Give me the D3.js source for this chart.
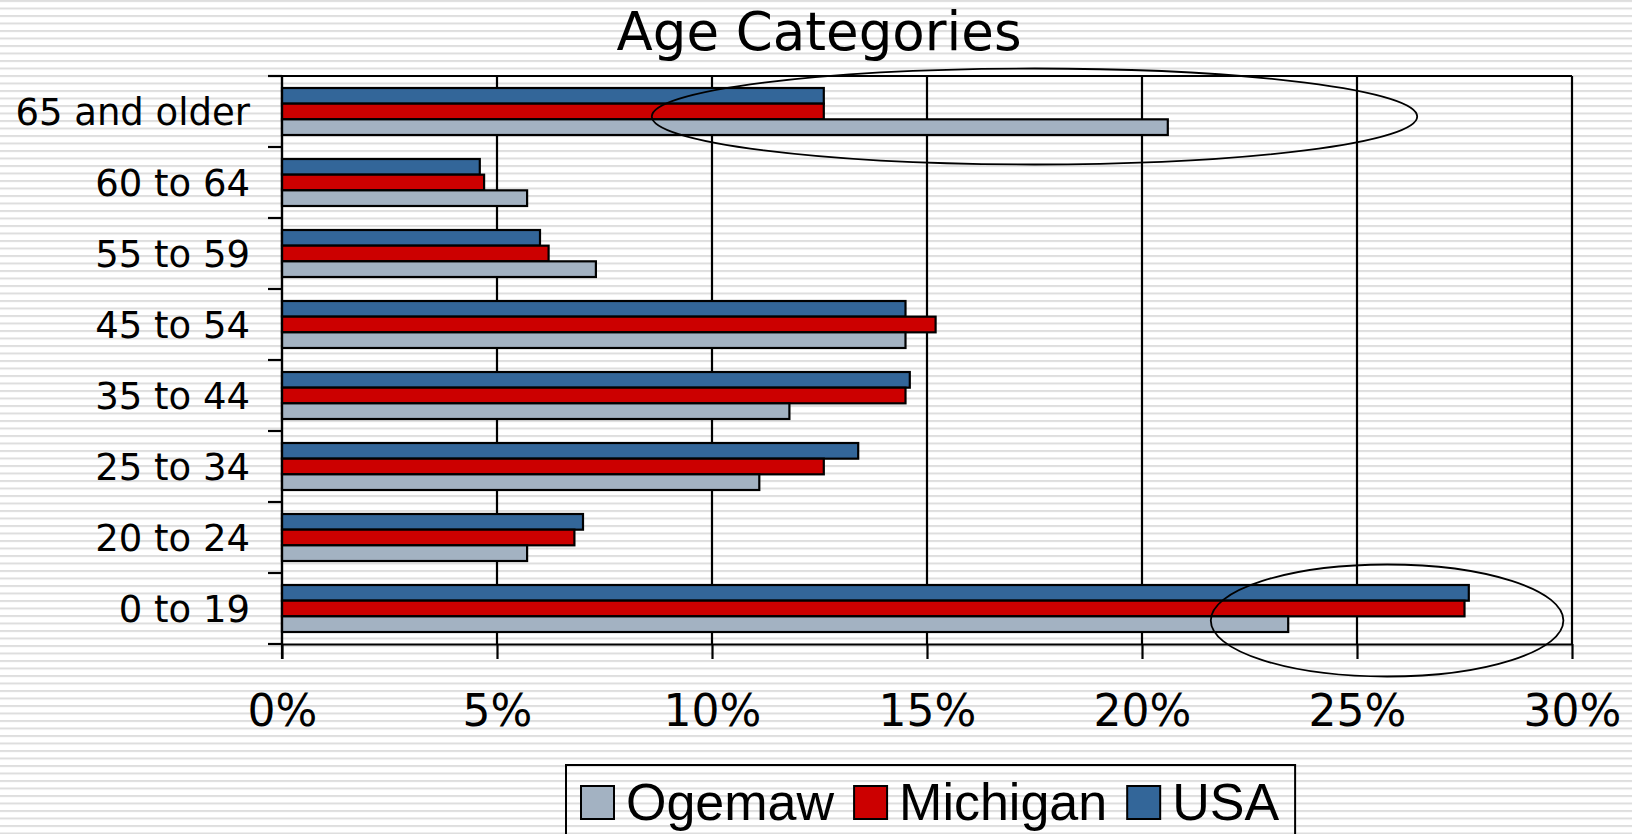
<!DOCTYPE html>
<html>
<head>
<meta charset="utf-8">
<script src="https://cdn.jsdelivr.net/npm/d3@7"></script>
<style>
  body { margin: 0; background: #fff; }
  svg { display: block; }
</style>
</head>
<body>
<div id="chart"></div>
<script>
// chart data (percent of population)
const categories = ['65 and older', '60 to 64', '55 to 59', '45 to 54', '35 to 44', '25 to 34', '20 to 24', '0 to 19'];
const seriesNames = ['USA', 'Michigan', 'Ogemaw'];   // top to bottom inside each group
const usaValues = [12.6, 4.6, 6.0, 14.5, 14.6, 13.4, 7.0, 27.6];
const michiganValues = [12.6, 4.7, 6.2, 15.2, 14.5, 12.6, 6.8, 27.5];
const ogemawValues = [20.6, 5.7, 7.3, 14.5, 11.8, 11.1, 5.7, 23.4];
const xTicks = [0, 5, 10, 15, 20, 25, 30];
const legendOrder = ['Ogemaw', 'Michigan', 'USA'];

const seriesValues = { USA: usaValues, Michigan: michiganValues, Ogemaw: ogemawValues };
const colors = { USA: '#336699', Michigan: '#cc0000', Ogemaw: '#a3b2c2' };

const width = 1632, height = 834;
const plot = { left: 282, right: 1572, top: 76, bottom: 644 };

const svg = d3.select('#chart').append('svg')
    .attr('width', width)
    .attr('height', height);

// striped slide background
const defs = svg.append('defs');
const pat = defs.append('pattern')
    .attr('id', 'stripes')
    .attr('patternUnits', 'userSpaceOnUse')
    .attr('width', 10)
    .attr('height', 7.5);
pat.append('rect').attr('width', 10).attr('height', 7.5).attr('fill', '#ffffff');
pat.append('rect').attr('y', 0).attr('width', 10).attr('height', 2).attr('fill', '#dedede');

svg.append('rect')
    .attr('width', width)
    .attr('height', height)
    .attr('fill', 'url(#stripes)');

// scales
const x = d3.scaleLinear().domain([0, 30]).range([plot.left, plot.right]);
const y0 = d3.scaleBand()
    .domain(categories)
    .range([plot.top, plot.bottom])
    .paddingInner(0.338)
    .paddingOuter(0.169);
const y1 = d3.scaleBand().domain(seriesNames).range([0, y0.bandwidth()]);
const step = y0.step();

// title
svg.append('text')
    .attr('x', 819)
    .attr('y', 50)
    .attr('text-anchor', 'middle')
    .style('font-family', '"DejaVu Sans", Verdana, sans-serif')
    .style('font-size', '53px')
    .attr('fill', '#000')
    .text('Age Categories');

// vertical gridlines
svg.append('g').selectAll('line')
    .data(xTicks)
    .enter().append('line')
    .attr('x1', d => x(d)).attr('x2', d => x(d))
    .attr('y1', plot.top).attr('y2', plot.bottom)
    .attr('stroke', '#000').attr('stroke-width', 2.2);

// top border of plot area
svg.append('line')
    .attr('x1', plot.left).attr('x2', plot.right)
    .attr('y1', plot.top).attr('y2', plot.top)
    .attr('stroke', '#000').attr('stroke-width', 2.2);

// bars
const groups = svg.append('g').selectAll('g')
    .data(categories)
    .enter().append('g')
    .attr('transform', d => 'translate(0,' + y0(d) + ')');

groups.selectAll('rect')
    .data((c, i) => seriesNames.map(s => ({ series: s, value: seriesValues[s][i] })))
    .enter().append('rect')
    .attr('x', x(0))
    .attr('y', d => y1(d.series))
    .attr('width', d => x(d.value) - x(0))
    .attr('height', y1.bandwidth())
    .attr('fill', d => colors[d.series])
    .attr('stroke', '#000')
    .attr('stroke-width', 2.2);

// x axis
const xAxis = svg.append('g')
    .attr('transform', 'translate(0,' + plot.bottom + ')')
    .call(d3.axisBottom(x)
        .tickValues(xTicks)
        .tickSize(15)
        .tickSizeOuter(0)
        .tickPadding(36)
        .tickFormat(d => d + '%'));
xAxis.select('.domain').attr('stroke', '#000').attr('stroke-width', 2.2);
xAxis.selectAll('.tick line').attr('stroke', '#000').attr('stroke-width', 2.2);
xAxis.selectAll('.tick text')
    .attr('fill', '#000')
    .style('font-family', '"DejaVu Sans", Verdana, sans-serif')
    .style('font-size', '44px');

// y axis: labels at band centers, ticks at band boundaries
const yAxis = svg.append('g')
    .attr('transform', 'translate(' + plot.left + ',0)')
    .call(d3.axisLeft(y0).tickSize(0).tickPadding(32));
yAxis.select('.domain').remove();
yAxis.selectAll('.tick text')
    .attr('fill', '#000')
    .attr('dy', '0.37em')
    .style('font-family', '"DejaVu Sans", Verdana, sans-serif')
    .style('font-size', '37px');

const bounds = d3.range(categories.length + 1).map(i => plot.top + i * step);
svg.append('g').selectAll('line')
    .data(bounds)
    .enter().append('line')
    .attr('x1', plot.left - 14).attr('x2', plot.left)
    .attr('y1', d => d).attr('y2', d => d)
    .attr('stroke', '#000').attr('stroke-width', 2.2);
svg.append('line')
    .attr('x1', plot.left).attr('x2', plot.left)
    .attr('y1', plot.top).attr('y2', plot.bottom + 15)
    .attr('stroke', '#000').attr('stroke-width', 2.2);

// hand-drawn ellipses highlighting the comparison
const notes = [
    { cat: '65 and older', cx: 17.5, rx: 8.9, dy: 5, ry: 48 },
    { cat: '0 to 19', cx: 25.7, rx: 4.1, dy: 12, ry: 56 }
];
svg.append('g').selectAll('ellipse')
    .data(notes)
    .enter().append('ellipse')
    .attr('cx', d => x(d.cx))
    .attr('cy', d => y0(d.cat) + y0.bandwidth() / 2 + d.dy)
    .attr('rx', d => x(d.rx) - x(0))
    .attr('ry', d => d.ry)
    .attr('fill', 'none')
    .attr('stroke', '#000')
    .attr('stroke-width', 1.8);

// legend
const legend = svg.append('g').attr('transform', 'translate(566,765)');
const legendBox = legend.append('rect')
    .attr('x', 0).attr('y', 0)
    .attr('height', 120)
    .attr('fill', 'none')
    .attr('stroke', '#000')
    .attr('stroke-width', 2);

let lx = 15, textEnd = 0;
legendOrder.forEach(function(s) {
    legend.append('rect')
        .attr('x', lx).attr('y', 21)
        .attr('width', 33).attr('height', 33)
        .attr('fill', colors[s])
        .attr('stroke', '#000')
        .attr('stroke-width', 2);
    const t = legend.append('text')
        .attr('x', lx + 45)
        .attr('y', 55)
        .style('font-family', '"Liberation Sans", Arial, sans-serif')
        .style('font-size', '52px')
        .attr('fill', '#000')
        .text(s);
    textEnd = lx + 45 + t.node().getComputedTextLength();
    lx = textEnd + 20;
});
legendBox.attr('width', textEnd + 16);
</script>
</body>
</html>
